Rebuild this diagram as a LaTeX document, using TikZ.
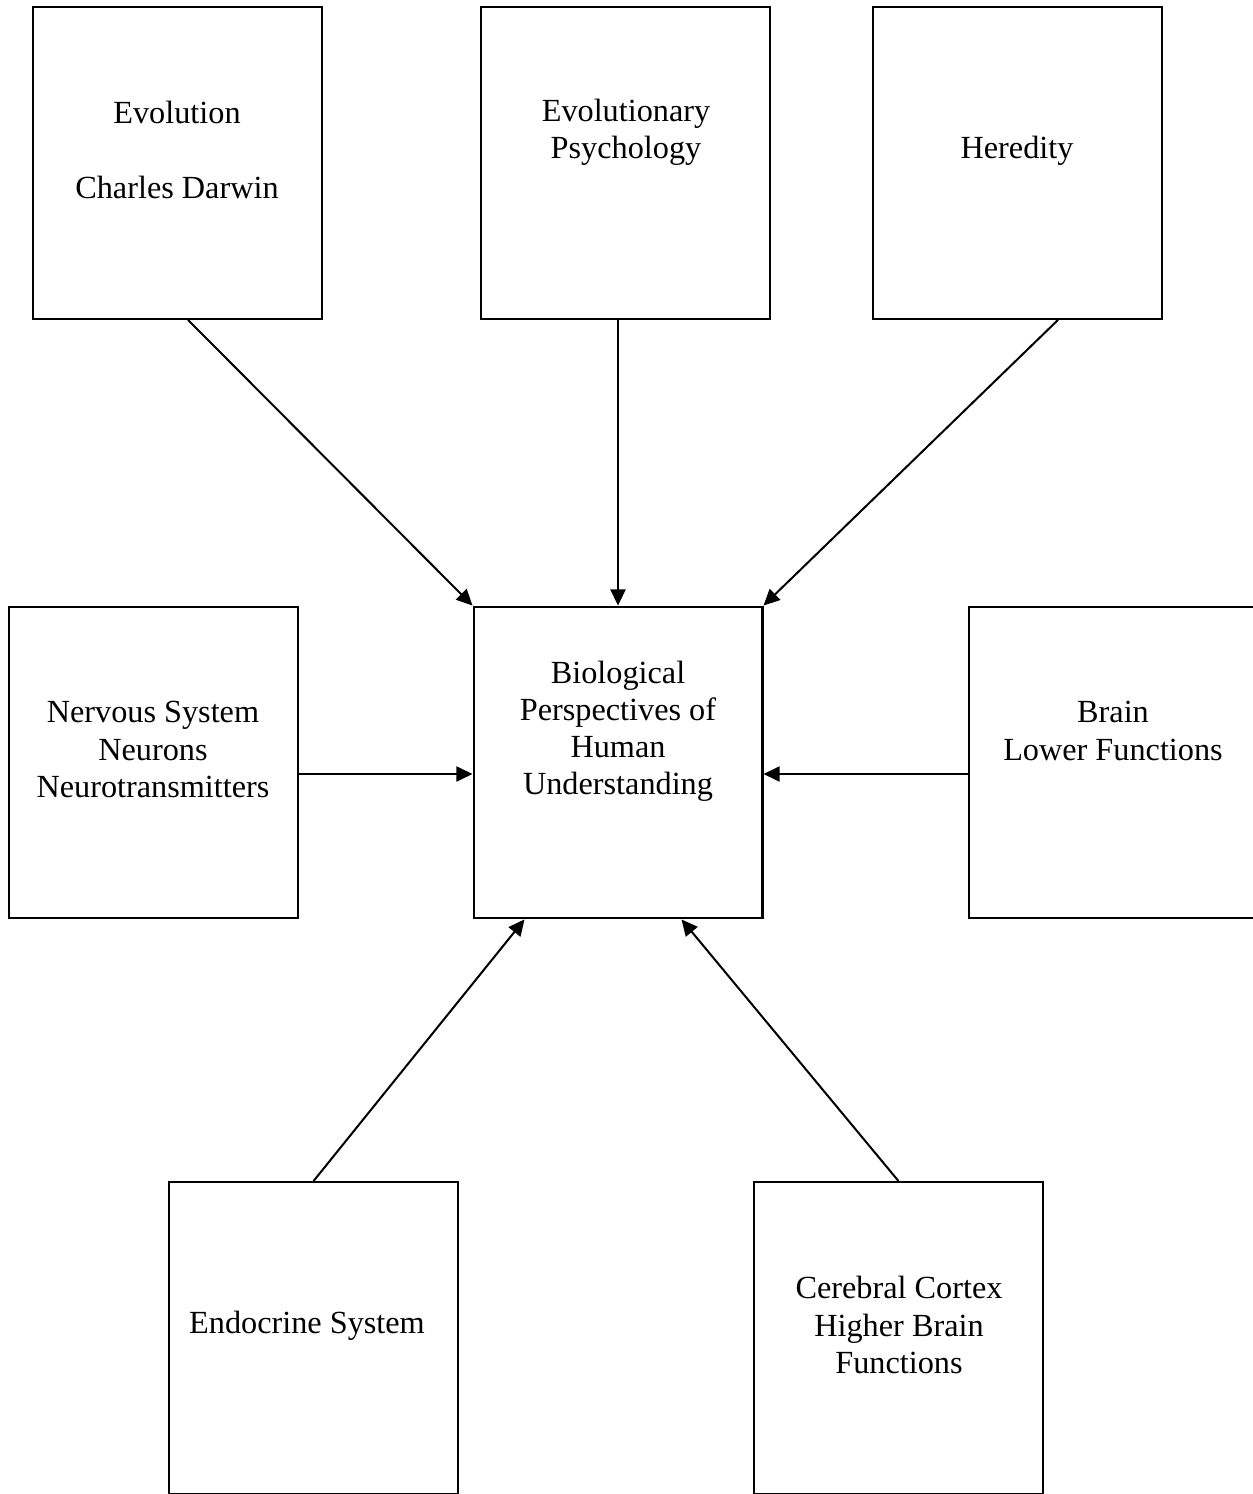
\documentclass[tikz,border=0pt]{standalone}
\usepackage{fontspec}
\setmainfont{Liberation Serif}
\usetikzlibrary{arrows.meta,calc}

\begin{document}
\begin{tikzpicture}[->,>={Triangle[length=6pt,width=5.6pt]},line width=0.75pt,
                    x=0.372pt,y=-0.372pt]
                    \tikzstyle{box}=[draw,rectangle,minimum width=107.5pt,
                            minimum height=116pt,inner sep=0pt]
                    \tikzstyle{txt}=[align=center,inner sep=0pt,
                            font=\fontsize{12}{13.8}\selectfont]

  \useasboundingbox (0,0) rectangle (1252,1494);

  % boxes
  \node (1) [box] at (177.5,163) {};
  \node (2) [box] at (625.5,163) {};
  \node (3) [box] at (1017.5,163) {};
  \node (4) [box] at (153.5,762.5) {};
  \node (5) [box] at (618,762.5) {};
  \node (6) [box] at (1113.5,762.5) {};
  \node (7) [box] at (313.5,1338) {};
  \node (8) [box] at (898.5,1338) {};

  % texts
  \node (1t) [txt] at (177,150) {Evolution\\[13.8pt]Charles Darwin};
  \node (2t) [txt] at (626,132) {Evolutionary\\Psychology};
  \node (3t) [txt] at (1017,151) {Heredity};
  \node (4t) [txt] at (153,749.5) {Nervous System\\Neurons\\Neurotransmitters};
  \node (5t) [txt] at (618,731.5) {Biological\\Perspectives of\\Human\\Understanding};
  \node (6t) [txt] at (1113,731) {Brain\\Lower Functions};
  \node (7t) [txt] at (307,1326) {Endocrine System};
  \node (8t) [txt] at (899,1325) {Cerebral Cortex\\Higher Brain\\Functions};

  \coordinate (m) at ($(5.center)+(0,11.5)$);

  \path
    ($(1.south)+(10.5,0)$) edge (5.north west)
    (2.south -| 5.north) edge (5.north)
    ($(3.south)+(40.5,0)$) edge (5.north east)
    (4.east |- m) edge (5.west |- m)
    (6.west |- m) edge (5.east |- m)
    (7.north) edge ($(5.south west)+(52,0)$)
    (8.north) edge ($(5.south east)+(-82,0)$);

\end{tikzpicture}
\end{document}
